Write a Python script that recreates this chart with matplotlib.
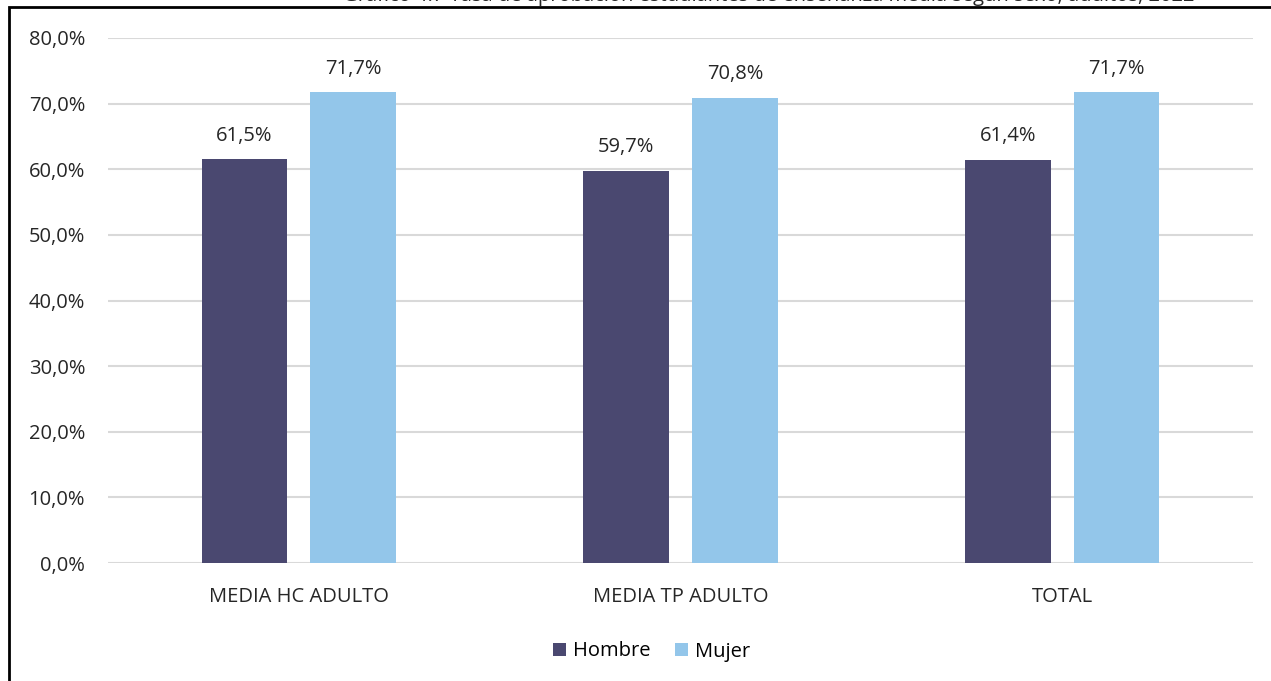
import matplotlib.pyplot as plt
import numpy as np
from matplotlib.patches import Rectangle

plt.rcParams['font.family'] = ['Open Sans', 'DejaVu Sans']

# datos
categorias = ['MEDIA HC ADULTO', 'MEDIA TP ADULTO', 'TOTAL']
hombre = [61.5, 59.7, 61.4]
mujer = [71.7, 70.8, 71.7]
yticks = [0, 10, 20, 30, 40, 50, 60, 70, 80]
titulo = 'Gráfico 4.7 Tasa de aprobación estudiantes de enseñanza media según sexo, adultos, 2022'

col_h = '#4a4870'
col_m = '#93c6ea'
fs = 14.5

fig = plt.figure(figsize=(12.71, 6.81), dpi=100)
ax = fig.add_axes([108/1271, 1 - 563/681, 1145/1271, 525/681])

x = np.arange(len(categorias))
w = 0.225
off = 0.1425
b1 = ax.bar(x - off, hombre, w, color=col_h, label='Hombre', zorder=3)
b2 = ax.bar(x + off, mujer, w, color=col_m, label='Mujer', zorder=3)

def fmt(v):
    return f'{v:.1f}%'.replace('.', ',')

for rects, vals in ((b1, hombre), (b2, mujer)):
    for r, v in zip(rects, vals):
        ax.annotate(fmt(v), (r.get_x() + r.get_width() / 2, v),
                    xytext=(0, 10), textcoords='offset points',
                    ha='center', va='bottom', fontsize=fs, color='#262626')

ax.set_xlim(-0.5, 2.5)
ax.set_ylim(0, 80)
ax.set_yticks(yticks)
ax.set_yticklabels([fmt(v) for v in yticks], fontsize=fs, color='#262626')
ax.set_xticks(x)
ax.set_xticklabels(categorias, fontsize=fs, color='#262626')
ax.tick_params(axis='both', length=0)
ax.tick_params(axis='y', pad=16.5)
ax.tick_params(axis='x', pad=17)
ax.grid(axis='y', color='#d9d9d9', linewidth=1.5, zorder=0)
for s in ax.spines.values():
    s.set_visible(False)

ax.legend(loc='upper center', bbox_to_anchor=(0.475, -0.115), ncol=2, frameon=False,
          fontsize=fs, handlelength=0.65, handleheight=0.65, handletextpad=0.35,
          columnspacing=1.2)

# marco del gráfico (recortado)
fig.patches.append(Rectangle((9/1271, -0.1), 1.2, (1 - 7/681) + 0.1,
                             transform=fig.transFigure, fill=False,
                             edgecolor='black', linewidth=2))

# título cortado arriba
fig.text(769/1271, 1 + 4/681, titulo, ha='center', va='center', fontsize=fs, color='#262626')

fig.savefig('out.png', dpi=100)
